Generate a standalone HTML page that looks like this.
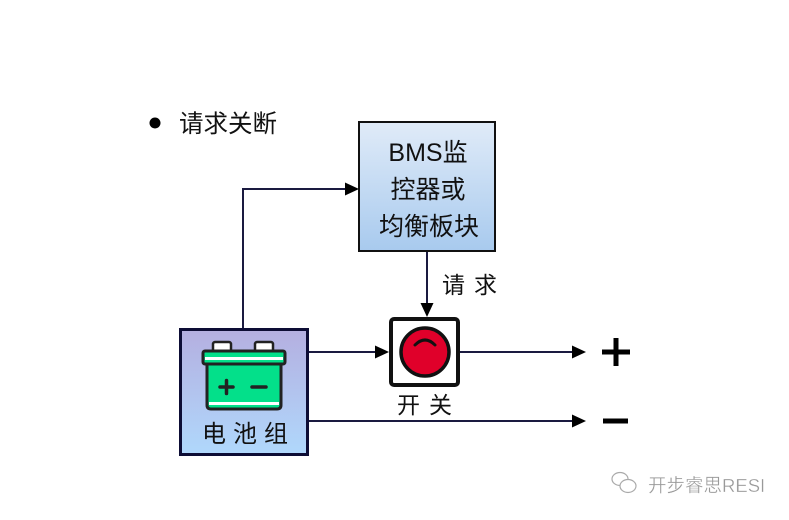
<!DOCTYPE html>
<html><head><meta charset="utf-8"><style>
html,body{margin:0;padding:0;background:#fff;}
svg{display:block;}
text{font-family:"Liberation Sans","Noto Sans CJK SC",sans-serif;}
</style></head><body>
<svg width="789" height="520" viewBox="0 0 789 520" xmlns="http://www.w3.org/2000/svg">
<defs>
<linearGradient id="gb" x1="0" y1="0" x2="0" y2="1">
<stop offset="0" stop-color="#e0ebf8"/><stop offset="1" stop-color="#a8caee"/>
</linearGradient>
<linearGradient id="gp" x1="0" y1="0" x2="0" y2="1">
<stop offset="0" stop-color="#b4afe0"/><stop offset="1" stop-color="#b0d8fc"/>
</linearGradient>
</defs>
<rect width="789" height="520" fill="#fff"/>

<!-- bullet + title -->
<circle cx="155" cy="123" r="5.5" fill="#000"/>
<text x="179" y="132" font-size="24.5" fill="#111">请求关断</text>

<!-- BMS box -->
<rect x="359" y="122" width="136" height="129" fill="url(#gb)" stroke="#111" stroke-width="2"/>
<text x="428" y="161" font-size="25" fill="#111" text-anchor="middle">BMS监</text>
<text x="428" y="198" font-size="25" fill="#111" text-anchor="middle">控器或</text>
<text x="429" y="235" font-size="25" fill="#111" text-anchor="middle">均衡板块</text>

<!-- connectors -->
<g stroke="#1a1a40" stroke-width="2" fill="none">
<polyline points="243,328 243,189 346,189"/>
<line x1="427" y1="252" x2="427" y2="305"/>
<line x1="309" y1="352" x2="377" y2="352"/>
<line x1="460" y1="352" x2="573" y2="352"/>
<line x1="309" y1="421" x2="573" y2="421"/>
</g>
<g fill="#000">
<polygon points="359,189 345,182.5 345,195.5"/>
<polygon points="427,317 420.5,303 433.5,303"/>
<polygon points="389,352 375,345.5 375,358.5"/>
<polygon points="586,352 572,345.5 572,358.5"/>
<polygon points="586,421 572,414.5 572,427.5"/>
</g>

<text x="442" y="293" font-size="23" fill="#111" letter-spacing="9">请求</text>

<!-- battery box -->
<rect x="180.5" y="329.5" width="127" height="125" fill="url(#gp)" stroke="#0d0d35" stroke-width="3"/>
<!-- battery icon -->
<rect x="213" y="342" width="18" height="11" rx="2" fill="#fff" stroke="#222" stroke-width="2.5"/>
<rect x="255" y="342" width="18" height="11" rx="2" fill="#fff" stroke="#222" stroke-width="2.5"/>
<path d="M207,363 H281 V405 Q281,409 277,409 H211 Q207,409 207,405 Z" fill="#03e08a" stroke="#222" stroke-width="3"/>
<rect x="203" y="351" width="82" height="13" rx="2" fill="#03e08a" stroke="#222" stroke-width="3"/>
<rect x="205" y="357" width="78" height="3" fill="#fff"/>
<rect x="209" y="402" width="70" height="3" fill="#fff"/>
<g stroke="#222" stroke-width="3.5" stroke-linecap="round">
<line x1="220" y1="387" x2="233" y2="387"/>
<line x1="226.5" y1="380.5" x2="226.5" y2="393.5"/>
<line x1="252" y1="387" x2="266" y2="387"/>
</g>
<text x="202" y="442" font-size="24" fill="#111" letter-spacing="7">电池组</text>

<!-- switch -->
<rect x="391" y="319" width="67" height="66" rx="3" fill="#fff" stroke="#111" stroke-width="4"/>
<circle cx="425" cy="352" r="24" fill="#e0002a" stroke="#111" stroke-width="3.5"/>
<path d="M415,345 Q425,335 435,345" fill="none" stroke="#111" stroke-width="3" stroke-linecap="round"/>
<text x="397" y="413" font-size="23" fill="#111" letter-spacing="9">开关</text>

<!-- plus / minus -->
<g stroke="#000" stroke-width="5">
<line x1="602" y1="352" x2="630" y2="352"/>
<line x1="616" y1="338" x2="616" y2="366"/>
<line x1="603" y1="421" x2="628" y2="421"/>
</g>

<!-- watermark -->
<g fill="none" stroke="#aaa" stroke-width="1.2">
<ellipse cx="620" cy="479" rx="8" ry="6.5"/>
<ellipse cx="628" cy="486" rx="8" ry="6.5" fill="#fff"/>
</g>
<text x="648" y="492" font-size="18.5" fill="#999" stroke="#fff" stroke-width="0.3">开步睿思RESI</text>
</svg>
</body></html>
